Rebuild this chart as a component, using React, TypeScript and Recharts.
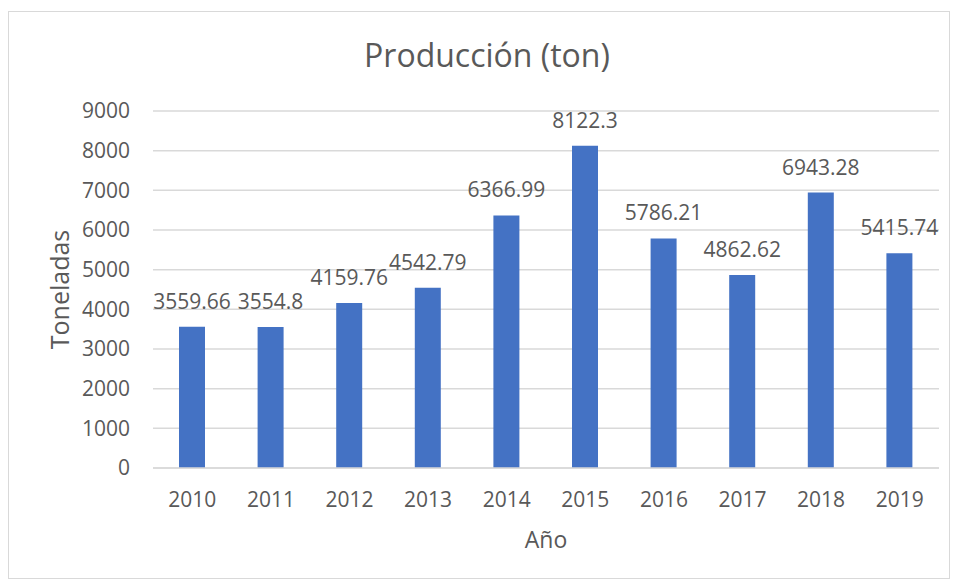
import { BarChart, Bar, XAxis, YAxis, CartesianGrid, LabelList, Label } from "recharts";

const YEARS = ["2010", "2011", "2012", "2013", "2014", "2015", "2016", "2017", "2018", "2019"];
const TONS = [3559.66, 3554.8, 4159.76, 4542.79, 6366.99, 8122.3, 5786.21, 4862.62, 6943.28, 5415.74];
const Y_TICKS = [0, 1000, 2000, 3000, 4000, 5000, 6000, 7000, 8000, 9000];

const FONT = "'Open Sans', 'Noto Sans', sans-serif";
const GRAY = "#595959";

const data = YEARS.map((year, i) => ({ year, tons: TONS[i] }));

export default function App() {
  return (
    <div style={{ position: "absolute", left: 0, top: 0, width: 954, height: 581, background: "#fff", fontFamily: FONT }}>
      <div style={{ position: "absolute", left: 8, top: 11, width: 940, height: 566, border: "1px solid #d9d9d9" }} />
      <div style={{ position: "absolute", left: 0, top: 33, width: 974, textAlign: "center", fontSize: 32, color: GRAY }}>
        Producción (ton)
      </div>
      <BarChart
        width={954}
        height={581}
        data={data}
        margin={{ top: 111, right: 15, bottom: 30, left: 40 }}
        style={{ position: "absolute", left: 0, top: 0 }}
      >
        <CartesianGrid vertical={false} stroke="#d9d9d9" strokeWidth={1.5} />
        <XAxis
          dataKey="year"
          axisLine={{ stroke: "#d9d9d9", strokeWidth: 1.5 }}
          tickLine={false}
          tickMargin={18}
          height={83}
          tick={{ fill: GRAY, fontSize: 21, fontFamily: FONT }}
        >
          <Label value="Año" position="insideBottom" offset={3} fill={GRAY} fontSize={23} fontFamily={FONT} />
        </XAxis>
        <YAxis
          domain={[0, 9000]}
          ticks={Y_TICKS}
          axisLine={false}
          tickLine={false}
          tickMargin={17}
          width={113}
          tick={{ fill: GRAY, fontSize: 21, fontFamily: FONT }}
        >
          <Label value="Toneladas" angle={-90} position="insideLeft" offset={20} fill={GRAY} fontSize={25} fontFamily={FONT} style={{ textAnchor: "middle" }} />
        </YAxis>
        <Bar dataKey="tons" fill="#4472C4" barSize={26} isAnimationActive={false}>
          <LabelList dataKey="tons" position="top" offset={18} fill={GRAY} fontSize={21} fontFamily={FONT} />
        </Bar>
      </BarChart>
    </div>
  );
}
